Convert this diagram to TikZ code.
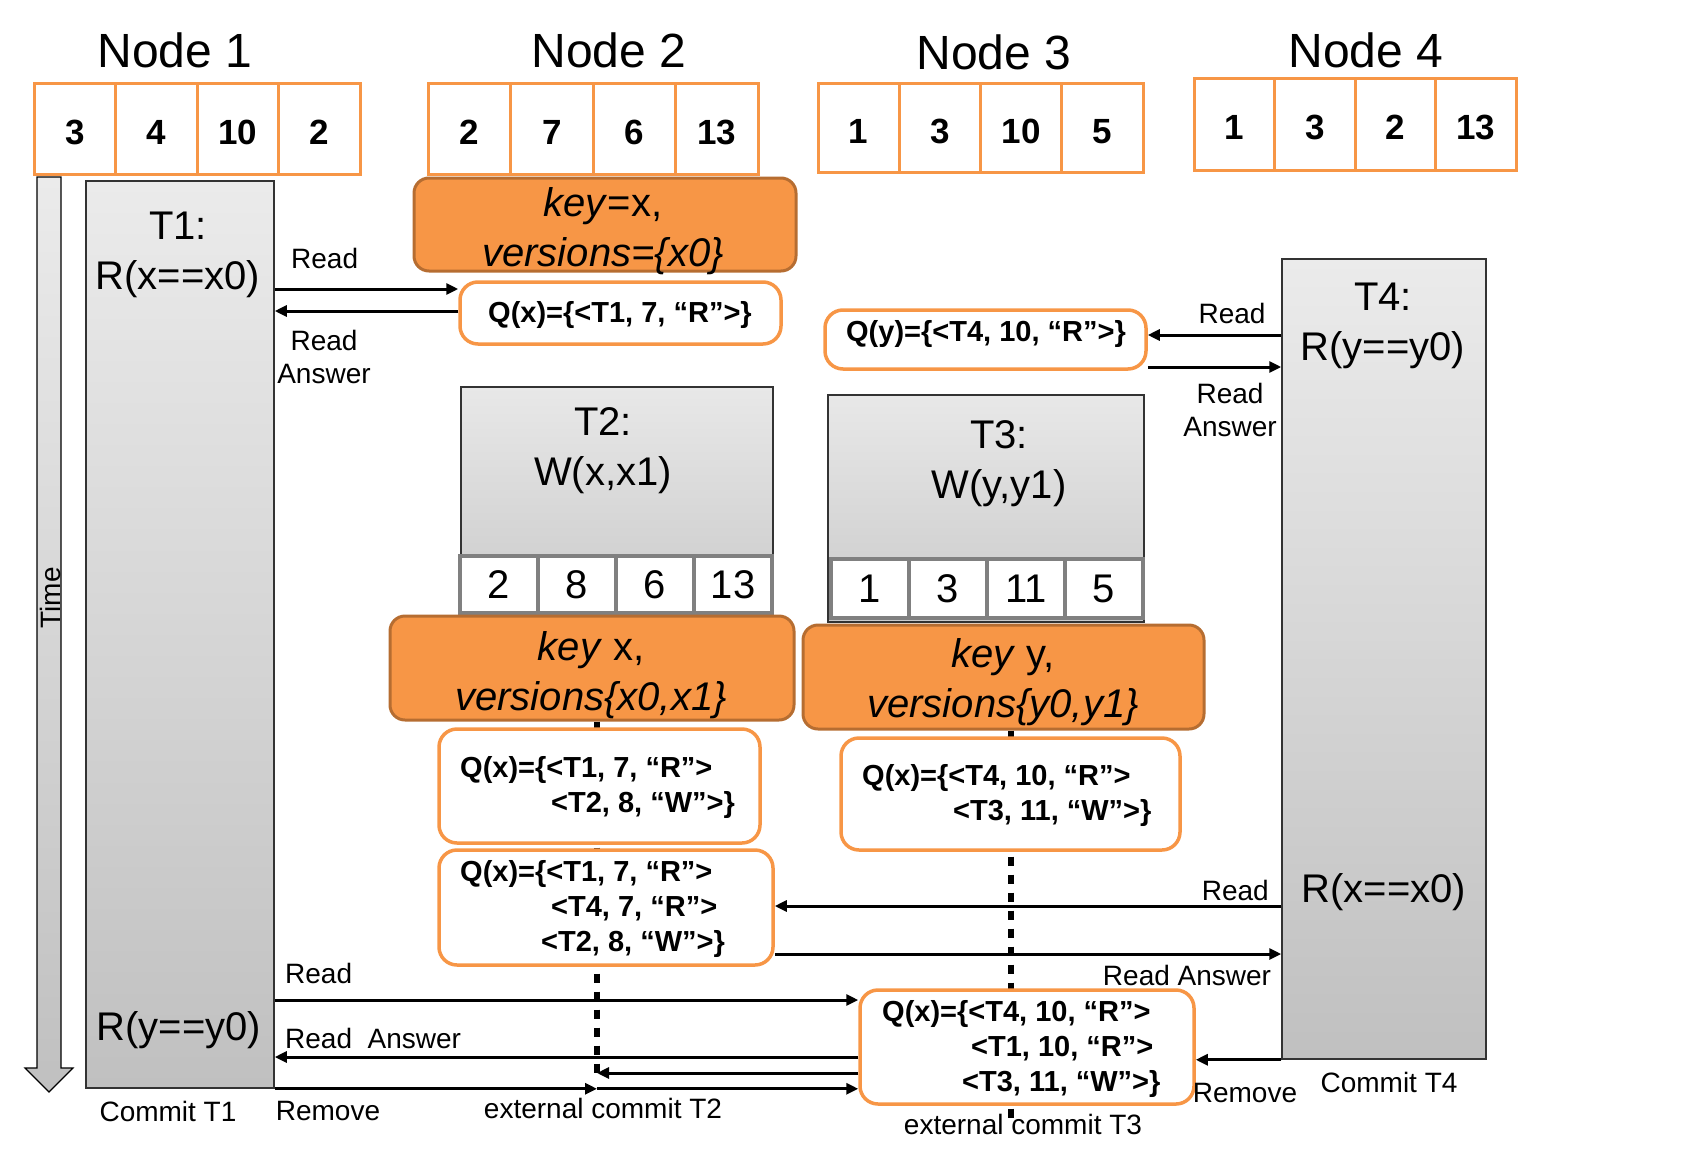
\documentclass[tikz,border=0pt]{standalone}
\usepackage{fontspec}
\setmainfont{Liberation Sans}
\usetikzlibrary{arrows.meta}
\definecolor{orng}{HTML}{F79646}
\definecolor{orngd}{HTML}{B66D31}
\definecolor{gtop}{HTML}{EBEBEB}
\definecolor{gbot}{HTML}{C0C0C0}
\definecolor{gtopb}{HTML}{E8E8E8}
\definecolor{gbotb}{HTML}{CACACA}
\definecolor{cellg}{HTML}{808080}
\newcommand{\fsz}[2]{\fontsize{#1}{#2}\selectfont}
\begin{document}
\begin{tikzpicture}[x=1pt,y=-1pt,
 every node/.style={inner sep=0pt},
 ttl/.style={font=\fsz{48}{56}},
 ocell/.style={draw=orng, line width=3pt, fill=white, font=\bfseries\fsz{35}{40}, text height=31pt, text depth=0pt},
 gcell/.style={draw=cellg, line width=3.5pt, fill=white, font=\fsz{40}{46}},
 tbox/.style={draw=black!80, line width=1.5pt, top color=gtop, bottom color=gbot},
 tboxb/.style={draw=black!80, line width=1.5pt, top color=gtopb, bottom color=gbotb},
 ttext/.style={font=\fsz{40}{50}, align=center},
 kbox/.style={draw=orngd, line width=3pt, fill=orng, rounded corners=15pt},
 ktext/.style={font=\fsz{40}{50}, align=center},
 qbox/.style={draw=orng, line width=3.5pt, fill=white, rounded corners=18pt},
 qtext/.style={font=\bfseries\fsz{29}{35}, align=left},
 lbl/.style={font=\fsz{28}{33}, align=center},
 arr/.style={line width=3pt, -{Triangle[length=12pt,width=11pt]}},
 dotl/.style={line width=6pt, dash pattern=on 9pt off 9pt},
]
\useasboundingbox (0,0) rectangle (1686,1159);

% time arrow
\draw[line width=1.2pt, top color=gtop, bottom color=gbot]
  (37,177) -- (61,177) -- (61,1068) -- (73,1068) -- (49,1092) -- (25,1068) -- (37,1068) -- cycle;
\node[lbl, rotate=90] (tm) at (50,598) {Time};

% titles
\node[ttl] (h1) at (175,50) {Node 1};
\node[ttl] (h2) at (609,50) {Node 2};
\node[ttl] (h3) at (994,52) {Node 3};
\node[ttl] (h4) at (1366,50) {Node 4};

% header cells
\foreach \v [count=\i] in {3,4,10,2}
  \node[ocell, minimum width=81.5pt, minimum height=91pt] (na\i) at ({34+81.5*(\i-0.5)},128.5) {\v};
\foreach \v [count=\i] in {2,7,6,13}
  \node[ocell, minimum width=82.5pt, minimum height=91pt] (nb\i) at ({428+82.5*(\i-0.5)},128.5) {\v};
\foreach \v [count=\i] in {1,3,10,5}
  \node[ocell, minimum width=81.25pt, minimum height=89pt] (nc\i) at ({818+81.25*(\i-0.5)},127.5) {\v};
\foreach \v [count=\i] in {1,3,2,13}
  \node[ocell, minimum width=80.5pt, minimum height=92pt] (nd\i) at ({1194+80.5*(\i-0.5)},124) {\v};

% transaction boxes
\node[tbox, minimum width=188pt, minimum height=907pt] (t1) at (180,634.5) {};
\node[tbox, minimum width=204pt, minimum height=800pt] (t4) at (1384,659) {};
\node[tboxb, minimum width=312pt, minimum height=228pt] (t2) at (617,501) {};
\node[tboxb, minimum width=316pt, minimum height=227pt] (t3) at (986,508.5) {};

\foreach \v [count=\i] in {2,8,6,13}
  \node[gcell, minimum width=78pt, minimum height=57pt] (tb\i) at ({460+78*(\i-0.5)},584.5) {\v};
\foreach \v [count=\i] in {1,3,11,5}
  \node[gcell, minimum width=78pt, minimum height=59pt] (tc\i) at ({831+78*(\i-0.5)},588.5) {\v};

% key boxes
\node[kbox, minimum width=382pt, minimum height=93pt] (kx0) at (605,224.5) {};
\node[kbox, minimum width=404pt, minimum height=104pt] (kx) at (592,668) {};
\node[kbox, minimum width=401pt, minimum height=104pt] (ky) at (1003.5,677) {};
\node[ktext] (kx0t) at (603,231) {\textit{key}=x,\\\textit{versions=\{x0\}}};
\node[ktext] (kxt) at (591,675) {\textit{key} x,\\\textit{versions\{x0,x1\}}};
\node[ktext] (kyt) at (1003,682) {\textit{key} y,\\\textit{versions\{y0,y1\}}};

% timelines (dotted)
\coordinate (ec2) at (597,1080);
\coordinate (ec3) at (1011,1118);
\draw[dotl] (ec2 |- kx.south) -- (ec2);
\draw[dotl] (ec3 |- ky.south) -- (ec3);

% queue boxes
\node[qbox, minimum width=321pt, minimum height=62pt] (q1) at (620.5,313) {};
\node[qbox, minimum width=321pt, minimum height=59pt] (qy) at (985.5,339.5) {};
\node[qbox, minimum width=321pt, minimum height=114pt] (q2) at (599.5,786) {};
\node[qbox, minimum width=339pt, minimum height=112pt] (q3) at (1010.5,794) {};
\node[qbox, minimum width=334pt, minimum height=115pt] (q4) at (606,907.5) {};
\node[qbox, minimum width=334pt, minimum height=114pt] (q5) at (1027,1047) {};

\node[qtext] (q1t) at (620,315) {Q(x)=\{<T1, 7, “R”>\}};
\node[qtext] (qyt) at (986,334) {Q(y)=\{<T4, 10, “R”>\}};
\node[qtext, anchor=west] (q2t) at (460,787) {Q(x)=\{<T1, 7, “R”>\\\hspace*{91pt}<T2, 8, “W”>\}};
\node[qtext, anchor=west] (q3t) at (862,795) {Q(x)=\{<T4, 10, “R”>\\\hspace*{91pt}<T3, 11, “W”>\}};
\node[qtext, anchor=west] (q4t) at (460,909) {Q(x)=\{<T1, 7, “R”>\\\hspace*{91pt}<T4, 7, “R”>\\\hspace*{81pt}<T2, 8, “W”>\}};
\node[qtext, anchor=west] (q5t) at (882,1049) {Q(x)=\{<T4, 10, “R”>\\\hspace*{89pt}<T1, 10, “R”>\\\hspace*{80pt}<T3, 11, “W”>\}};

% transaction texts
\node[ttext] (t1a) at (178,255) {T1:\\R(x==x0)};
\node[ttext] (t1b) at (179,1030) {R(y==y0)};
\node[ttext] (t2a) at (603,451) {T2:\\W(x,x1)};
\node[ttext] (t3a) at (999,464) {T3:\\W(y,y1)};
\node[ttext] (t4a) at (1383,326) {T4:\\R(y==y0)};
\node[ttext] (t4b) at (1384,892) {R(x==x0)};

% arrows
\draw[arr] (t1.east |- 0,289) -- (q1.west |- 0,289);
\draw[arr] (q1.west |- 0,311) -- (t1.east |- 0,311);
\draw[arr] (t4.west |- 0,335) -- (qy.east |- 0,335);
\draw[arr] (qy.east |- 0,367) -- (t4.west |- 0,367);
\draw[arr] (t4.west |- 0,906) -- (q4.east |- 0,906);
\draw[arr] (q4.east |- 0,954) -- (t4.west |- 0,954);
\draw[arr] (t1.east |- 0,1000) -- (q5.west |- 0,1000);
\draw[arr] (q5.west |- 0,1057) -- (t1.east |- 0,1057);
\draw[arr] (q5.west |- 0,1073) -- (ec2 |- 0,1073);
\draw[arr] (t1.south east) -- (ec2 |- t1.south east);
\draw[arr] (ec2 |- t1.south east) -- (q5.west |- t1.south east);
\draw[arr] (t4.south west) -- (q5.east |- t4.south west);

% labels
\node[lbl, anchor=west] (l1) at (291,258) {Read};
\node[lbl] (l2) at (324,357) {Read\\Answer};
\node[lbl] (l3) at (1232,313) {Read};
\node[lbl] (l4) at (1230,410) {Read\\Answer};
\node[lbl, anchor=east] (l5) at (1269,890) {Read};
\node[lbl] (l6) at (1187,975) {Read Answer};
\node[lbl, anchor=west] (l7) at (285,973) {Read};
\node[lbl, anchor=west] (l8) at (285,1038) {Read~~Answer};
\node[lbl] (l9) at (168,1111) {Commit T1};
\node[lbl] (l10) at (328,1111) {Remove};
\node[lbl] (l11) at (603,1108) {external commit T2};
\node[lbl] (l12) at (1023,1124) {external commit T3};
\node[lbl] (l13) at (1245,1093) {Remove};
\node[lbl] (l14) at (1389,1082) {Commit T4};
\end{tikzpicture}
\end{document}
